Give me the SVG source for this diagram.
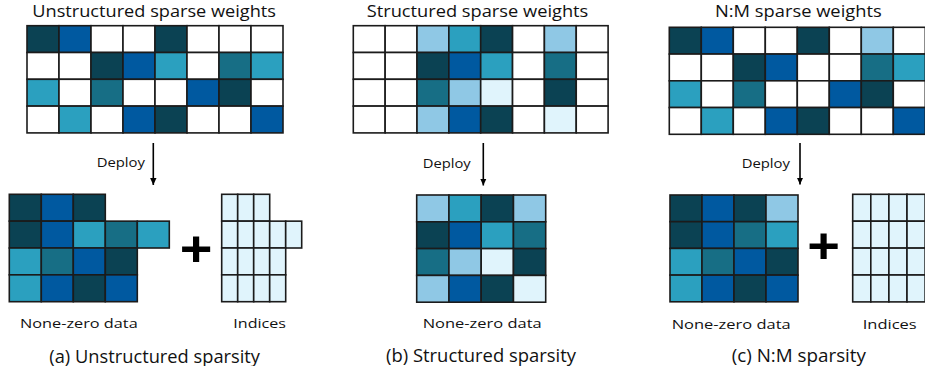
<svg xmlns="http://www.w3.org/2000/svg" width="925" height="366" viewBox="0 0 925 366">
<style>
rect{stroke:#1b1b1b;stroke-width:1.6}
.w{fill:#ffffff}.d{fill:#0b4253}.b{fill:#0059a0}.t{fill:#2ba0bf}.m{fill:#176e85}.l{fill:#8fc8e5}.v{fill:#e0f4fc}
text{font-family:"Open Sans","Liberation Sans",sans-serif;fill:#111}
.title{font-size:16.4px}
.dep{font-size:13px}
.lab{font-size:13.5px}
.cap{font-size:17.5px}
.plus{font-family:"Liberation Sans",Arial,sans-serif;font-weight:bold;font-size:56px;fill:#000}
.arr{stroke:#000;stroke-width:1.6;fill:none}
</style>
<defs>
<marker id="ah" markerUnits="userSpaceOnUse" markerWidth="8" markerHeight="8" refX="7" refY="4" orient="auto">
<path d="M0,0.8 L7,4 L0,7.2 Z" fill="#000"/>
</marker>
</defs>

<!-- Titles -->
<text class="title" x="32.3" y="17.3" textLength="243.7" lengthAdjust="spacingAndGlyphs">Unstructured sparse weights</text>
<text class="title" x="366.7" y="17.3" textLength="221.6" lengthAdjust="spacingAndGlyphs">Structured sparse weights</text>
<text class="title" x="715" y="17.3" textLength="166.7" lengthAdjust="spacingAndGlyphs">N:M sparse weights</text>

<!-- Top grid (a) -->
<g id="grid-unstructured" transform="translate(27,25.7)">
<rect class="d" x="0" y="0" width="32" height="26.8"/><rect class="b" x="32" y="0" width="32" height="26.8"/><rect class="w" x="64" y="0" width="32" height="26.8"/><rect class="w" x="96" y="0" width="32" height="26.8"/><rect class="d" x="128" y="0" width="32" height="26.8"/><rect class="w" x="160" y="0" width="32" height="26.8"/><rect class="w" x="192" y="0" width="32" height="26.8"/><rect class="w" x="224" y="0" width="32" height="26.8"/>
<rect class="w" x="0" y="26.8" width="32" height="26.8"/><rect class="w" x="32" y="26.8" width="32" height="26.8"/><rect class="d" x="64" y="26.8" width="32" height="26.8"/><rect class="b" x="96" y="26.8" width="32" height="26.8"/><rect class="t" x="128" y="26.8" width="32" height="26.8"/><rect class="w" x="160" y="26.8" width="32" height="26.8"/><rect class="m" x="192" y="26.8" width="32" height="26.8"/><rect class="t" x="224" y="26.8" width="32" height="26.8"/>
<rect class="t" x="0" y="53.6" width="32" height="26.8"/><rect class="w" x="32" y="53.6" width="32" height="26.8"/><rect class="m" x="64" y="53.6" width="32" height="26.8"/><rect class="w" x="96" y="53.6" width="32" height="26.8"/><rect class="w" x="128" y="53.6" width="32" height="26.8"/><rect class="b" x="160" y="53.6" width="32" height="26.8"/><rect class="d" x="192" y="53.6" width="32" height="26.8"/><rect class="w" x="224" y="53.6" width="32" height="26.8"/>
<rect class="w" x="0" y="80.4" width="32" height="26.8"/><rect class="t" x="32" y="80.4" width="32" height="26.8"/><rect class="w" x="64" y="80.4" width="32" height="26.8"/><rect class="b" x="96" y="80.4" width="32" height="26.8"/><rect class="d" x="128" y="80.4" width="32" height="26.8"/><rect class="w" x="160" y="80.4" width="32" height="26.8"/><rect class="w" x="192" y="80.4" width="32" height="26.8"/><rect class="b" x="224" y="80.4" width="32" height="26.8"/>
</g>

<!-- Top grid (b) -->
<g id="grid-structured" transform="translate(353.3,25.7)">
<rect class="w" x="0" y="0" width="31.85" height="26.8"/><rect class="w" x="31.85" y="0" width="31.85" height="26.8"/><rect class="l" x="63.7" y="0" width="31.85" height="26.8"/><rect class="t" x="95.55" y="0" width="31.85" height="26.8"/><rect class="d" x="127.4" y="0" width="31.85" height="26.8"/><rect class="w" x="159.25" y="0" width="31.85" height="26.8"/><rect class="l" x="191.1" y="0" width="31.85" height="26.8"/><rect class="w" x="222.95" y="0" width="31.85" height="26.8"/>
<rect class="w" x="0" y="26.8" width="31.85" height="26.8"/><rect class="w" x="31.85" y="26.8" width="31.85" height="26.8"/><rect class="d" x="63.7" y="26.8" width="31.85" height="26.8"/><rect class="b" x="95.55" y="26.8" width="31.85" height="26.8"/><rect class="t" x="127.4" y="26.8" width="31.85" height="26.8"/><rect class="w" x="159.25" y="26.8" width="31.85" height="26.8"/><rect class="m" x="191.1" y="26.8" width="31.85" height="26.8"/><rect class="w" x="222.95" y="26.8" width="31.85" height="26.8"/>
<rect class="w" x="0" y="53.6" width="31.85" height="26.8"/><rect class="w" x="31.85" y="53.6" width="31.85" height="26.8"/><rect class="m" x="63.7" y="53.6" width="31.85" height="26.8"/><rect class="l" x="95.55" y="53.6" width="31.85" height="26.8"/><rect class="v" x="127.4" y="53.6" width="31.85" height="26.8"/><rect class="w" x="159.25" y="53.6" width="31.85" height="26.8"/><rect class="d" x="191.1" y="53.6" width="31.85" height="26.8"/><rect class="w" x="222.95" y="53.6" width="31.85" height="26.8"/>
<rect class="w" x="0" y="80.4" width="31.85" height="26.8"/><rect class="w" x="31.85" y="80.4" width="31.85" height="26.8"/><rect class="l" x="63.7" y="80.4" width="31.85" height="26.8"/><rect class="b" x="95.55" y="80.4" width="31.85" height="26.8"/><rect class="d" x="127.4" y="80.4" width="31.85" height="26.8"/><rect class="w" x="159.25" y="80.4" width="31.85" height="26.8"/><rect class="v" x="191.1" y="80.4" width="31.85" height="26.8"/><rect class="w" x="222.95" y="80.4" width="31.85" height="26.8"/>
</g>

<!-- Top grid (c) -->
<g id="grid-nm" transform="translate(669.3,27.3)">
<rect class="d" x="0" y="0" width="32" height="26.75"/><rect class="b" x="32" y="0" width="32" height="26.75"/><rect class="w" x="64" y="0" width="32" height="26.75"/><rect class="w" x="96" y="0" width="32" height="26.75"/><rect class="d" x="128" y="0" width="32" height="26.75"/><rect class="w" x="160" y="0" width="32" height="26.75"/><rect class="l" x="192" y="0" width="32" height="26.75"/><rect class="w" x="224" y="0" width="32" height="26.75"/>
<rect class="w" x="0" y="26.75" width="32" height="26.75"/><rect class="w" x="32" y="26.75" width="32" height="26.75"/><rect class="d" x="64" y="26.75" width="32" height="26.75"/><rect class="b" x="96" y="26.75" width="32" height="26.75"/><rect class="w" x="128" y="26.75" width="32" height="26.75"/><rect class="w" x="160" y="26.75" width="32" height="26.75"/><rect class="m" x="192" y="26.75" width="32" height="26.75"/><rect class="t" x="224" y="26.75" width="32" height="26.75"/>
<rect class="t" x="0" y="53.5" width="32" height="26.75"/><rect class="w" x="32" y="53.5" width="32" height="26.75"/><rect class="m" x="64" y="53.5" width="32" height="26.75"/><rect class="w" x="96" y="53.5" width="32" height="26.75"/><rect class="w" x="128" y="53.5" width="32" height="26.75"/><rect class="b" x="160" y="53.5" width="32" height="26.75"/><rect class="d" x="192" y="53.5" width="32" height="26.75"/><rect class="w" x="224" y="53.5" width="32" height="26.75"/>
<rect class="w" x="0" y="80.25" width="32" height="26.75"/><rect class="t" x="32" y="80.25" width="32" height="26.75"/><rect class="w" x="64" y="80.25" width="32" height="26.75"/><rect class="b" x="96" y="80.25" width="32" height="26.75"/><rect class="d" x="128" y="80.25" width="32" height="26.75"/><rect class="w" x="160" y="80.25" width="32" height="26.75"/><rect class="w" x="192" y="80.25" width="32" height="26.75"/><rect class="b" x="224" y="80.25" width="32" height="26.75"/>
</g>

<!-- Connectors -->
<g id="connectors">
<line class="arr" x1="153.3" y1="143" x2="153.3" y2="185" marker-end="url(#ah)"/>
<line class="arr" x1="483.3" y1="143" x2="483.3" y2="185.5" marker-end="url(#ah)"/>
<line class="arr" x1="800" y1="143" x2="800" y2="184.5" marker-end="url(#ah)"/>
</g>
<text class="dep" x="96.7" y="167.2" textLength="48.3" lengthAdjust="spacingAndGlyphs">Deploy</text>
<text class="dep" x="422.7" y="168" textLength="48" lengthAdjust="spacingAndGlyphs">Deploy</text>
<text class="dep" x="741.7" y="168" textLength="48.3" lengthAdjust="spacingAndGlyphs">Deploy</text>

<!-- Bottom (a) data -->
<g id="data-unstructured" transform="translate(9.3,194.3)">
<rect class="d" x="0" y="0" width="32" height="26.85"/><rect class="b" x="32" y="0" width="32" height="26.85"/><rect class="d" x="64" y="0" width="32" height="26.85"/>
<rect class="d" x="0" y="26.85" width="32" height="26.85"/><rect class="b" x="32" y="26.85" width="32" height="26.85"/><rect class="t" x="64" y="26.85" width="32" height="26.85"/><rect class="m" x="96" y="26.85" width="32" height="26.85"/><rect class="t" x="128" y="26.85" width="32" height="26.85"/>
<rect class="t" x="0" y="53.7" width="32" height="26.85"/><rect class="m" x="32" y="53.7" width="32" height="26.85"/><rect class="b" x="64" y="53.7" width="32" height="26.85"/><rect class="d" x="96" y="53.7" width="32" height="26.85"/>
<rect class="t" x="0" y="80.55" width="32" height="26.85"/><rect class="b" x="32" y="80.55" width="32" height="26.85"/><rect class="d" x="64" y="80.55" width="32" height="26.85"/><rect class="b" x="96" y="80.55" width="32" height="26.85"/>
</g>
<text class="plus" x="196" y="268" text-anchor="middle" transform="translate(0,29.8) scale(1,0.88)">+</text>
<g id="indices-unstructured" transform="translate(221.7,194.3)">
<rect class="v" x="0" y="0" width="16" height="26.85"/><rect class="v" x="16" y="0" width="16" height="26.85"/><rect class="v" x="32" y="0" width="16" height="26.85"/>
<rect class="v" x="0" y="26.85" width="16" height="26.85"/><rect class="v" x="16" y="26.85" width="16" height="26.85"/><rect class="v" x="32" y="26.85" width="16" height="26.85"/><rect class="v" x="48" y="26.85" width="16" height="26.85"/><rect class="v" x="64" y="26.85" width="16" height="26.85"/>
<rect class="v" x="0" y="53.7" width="16" height="26.85"/><rect class="v" x="16" y="53.7" width="16" height="26.85"/><rect class="v" x="32" y="53.7" width="16" height="26.85"/><rect class="v" x="48" y="53.7" width="16" height="26.85"/>
<rect class="v" x="0" y="80.55" width="16" height="26.85"/><rect class="v" x="16" y="80.55" width="16" height="26.85"/><rect class="v" x="32" y="80.55" width="16" height="26.85"/><rect class="v" x="48" y="80.55" width="16" height="26.85"/>
</g>

<!-- Bottom (b) data -->
<g id="data-structured" transform="translate(416.7,195)">
<rect class="l" x="0" y="0" width="32.25" height="26.8"/><rect class="t" x="32.25" y="0" width="32.25" height="26.8"/><rect class="d" x="64.5" y="0" width="32.25" height="26.8"/><rect class="l" x="96.75" y="0" width="32.25" height="26.8"/>
<rect class="d" x="0" y="26.8" width="32.25" height="26.8"/><rect class="b" x="32.25" y="26.8" width="32.25" height="26.8"/><rect class="t" x="64.5" y="26.8" width="32.25" height="26.8"/><rect class="m" x="96.75" y="26.8" width="32.25" height="26.8"/>
<rect class="m" x="0" y="53.6" width="32.25" height="26.8"/><rect class="l" x="32.25" y="53.6" width="32.25" height="26.8"/><rect class="v" x="64.5" y="53.6" width="32.25" height="26.8"/><rect class="d" x="96.75" y="53.6" width="32.25" height="26.8"/>
<rect class="l" x="0" y="80.4" width="32.25" height="26.8"/><rect class="b" x="32.25" y="80.4" width="32.25" height="26.8"/><rect class="d" x="64.5" y="80.4" width="32.25" height="26.8"/><rect class="v" x="96.75" y="80.4" width="32.25" height="26.8"/>
</g>

<!-- Bottom (c) data -->
<g id="data-nm" transform="translate(670,195)">
<rect class="d" x="0" y="0" width="32" height="26.7"/><rect class="b" x="32" y="0" width="32" height="26.7"/><rect class="d" x="64" y="0" width="32" height="26.7"/><rect class="l" x="96" y="0" width="32" height="26.7"/>
<rect class="d" x="0" y="26.7" width="32" height="26.7"/><rect class="b" x="32" y="26.7" width="32" height="26.7"/><rect class="m" x="64" y="26.7" width="32" height="26.7"/><rect class="t" x="96" y="26.7" width="32" height="26.7"/>
<rect class="t" x="0" y="53.4" width="32" height="26.7"/><rect class="m" x="32" y="53.4" width="32" height="26.7"/><rect class="b" x="64" y="53.4" width="32" height="26.7"/><rect class="d" x="96" y="53.4" width="32" height="26.7"/>
<rect class="t" x="0" y="80.1" width="32" height="26.7"/><rect class="b" x="32" y="80.1" width="32" height="26.7"/><rect class="d" x="64" y="80.1" width="32" height="26.7"/><rect class="b" x="96" y="80.1" width="32" height="26.7"/>
</g>
<text class="plus" x="823.5" y="265" text-anchor="middle" transform="translate(0,29.5) scale(1,0.88)">+</text>
<g id="indices-nm" transform="translate(852.7,194.3)">
<rect class="v" x="0" y="0" width="18.1" height="26.9"/><rect class="v" x="18.1" y="0" width="18.1" height="26.9"/><rect class="v" x="36.2" y="0" width="18.1" height="26.9"/><rect class="v" x="54.3" y="0" width="18.1" height="26.9"/>
<rect class="v" x="0" y="26.9" width="18.1" height="26.9"/><rect class="v" x="18.1" y="26.9" width="18.1" height="26.9"/><rect class="v" x="36.2" y="26.9" width="18.1" height="26.9"/><rect class="v" x="54.3" y="26.9" width="18.1" height="26.9"/>
<rect class="v" x="0" y="53.8" width="18.1" height="26.9"/><rect class="v" x="18.1" y="53.8" width="18.1" height="26.9"/><rect class="v" x="36.2" y="53.8" width="18.1" height="26.9"/><rect class="v" x="54.3" y="53.8" width="18.1" height="26.9"/>
<rect class="v" x="0" y="80.7" width="18.1" height="26.9"/><rect class="v" x="18.1" y="80.7" width="18.1" height="26.9"/><rect class="v" x="36.2" y="80.7" width="18.1" height="26.9"/><rect class="v" x="54.3" y="80.7" width="18.1" height="26.9"/>
</g>

<!-- Labels -->
<text class="lab" x="20" y="328.3" textLength="117.7" lengthAdjust="spacingAndGlyphs">None-zero data</text>
<text class="lab" x="233.3" y="328.3" textLength="52.7" lengthAdjust="spacingAndGlyphs">Indices</text>
<text class="lab" x="422.7" y="327.7" textLength="119" lengthAdjust="spacingAndGlyphs">None-zero data</text>
<text class="lab" x="671.7" y="329.3" textLength="119" lengthAdjust="spacingAndGlyphs">None-zero data</text>
<text class="lab" x="862.7" y="329.3" textLength="54" lengthAdjust="spacingAndGlyphs">Indices</text>

<!-- Captions -->
<text class="cap" x="49.3" y="362.5" textLength="210.7" lengthAdjust="spacingAndGlyphs">(a) Unstructured sparsity</text>
<text class="cap" x="386" y="362" textLength="190" lengthAdjust="spacingAndGlyphs">(b) Structured sparsity</text>
<text class="cap" x="731.7" y="362" textLength="134.3" lengthAdjust="spacingAndGlyphs">(c) N:M sparsity</text>
</svg>
